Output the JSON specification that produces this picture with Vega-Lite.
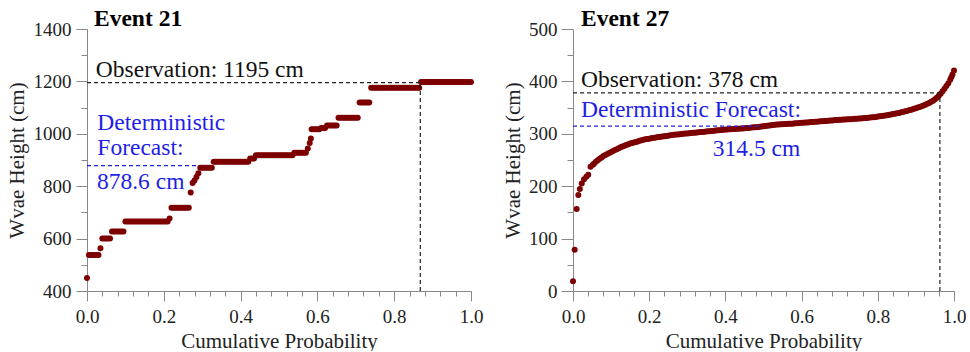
{
"$schema": "https://vega.github.io/schema/vega-lite/v6.json",
"background": "white",
"padding": {"left": 6, "top": 6, "right": 0, "bottom": 0},
"spacing": 19,
"config": {
  "view": {"stroke": null},
  "font": "Liberation Serif",
  "axis": {"grid": false, "domainColor": "#888", "tickColor": "#888", "labelColor": "#222", "titleColor": "#222", "labelFont": "Liberation Serif", "titleFont": "Liberation Serif", "labelFontSize": 19, "titleFontSize": 21, "titleFontWeight": "normal", "labelOverlap": false, "labelFlush": false, "labelBound": false}
},
"datasets": {
  "e21": [
{"p":0,"h":450},{"p":0.005,"h":537},{"p":0.01,"h":537},{"p":0.015,"h":537},{"p":0.02,"h":537},{"p":0.025,"h":537},{"p":0.03,"h":537},{"p":0.035,"h":563},{"p":0.04,"h":600},{"p":0.045,"h":600},{"p":0.05,"h":600},{"p":0.055,"h":600},{"p":0.06,"h":600},{"p":0.065,"h":627},{"p":0.07,"h":627},{"p":0.075,"h":627},{"p":0.08,"h":627},{"p":0.085,"h":627},{"p":0.09,"h":627},{"p":0.095,"h":627},
{"p":0.1,"h":665},{"p":0.105,"h":665},{"p":0.11,"h":665},{"p":0.115,"h":665},{"p":0.12,"h":665},{"p":0.125,"h":665},{"p":0.13,"h":665},{"p":0.135,"h":665},{"p":0.14,"h":665},{"p":0.145,"h":665},{"p":0.15,"h":665},{"p":0.155,"h":665},{"p":0.16,"h":665},{"p":0.165,"h":665},{"p":0.17,"h":665},{"p":0.175,"h":665},{"p":0.18,"h":665},{"p":0.185,"h":665},{"p":0.19,"h":665},{"p":0.195,"h":665},{"p":0.2,"h":665},{"p":0.205,"h":665},{"p":0.21,"h":665},{"p":0.215,"h":677},
{"p":0.22,"h":718},{"p":0.225,"h":718},{"p":0.23,"h":718},{"p":0.235,"h":718},{"p":0.24,"h":718},{"p":0.245,"h":718},{"p":0.25,"h":718},{"p":0.255,"h":718},{"p":0.26,"h":718},{"p":0.265,"h":718},{"p":0.27,"h":776},{"p":0.275,"h":812},{"p":0.28,"h":822},{"p":0.285,"h":835},{"p":0.29,"h":849},
{"p":0.295,"h":870},{"p":0.3,"h":870},{"p":0.305,"h":870},{"p":0.31,"h":870},{"p":0.315,"h":870},{"p":0.32,"h":870},{"p":0.325,"h":870},
{"p":0.33,"h":893},{"p":0.335,"h":893},{"p":0.34,"h":893},{"p":0.345,"h":893},{"p":0.35,"h":893},{"p":0.355,"h":893},{"p":0.36,"h":893},{"p":0.365,"h":893},{"p":0.37,"h":893},{"p":0.375,"h":893},{"p":0.38,"h":893},{"p":0.385,"h":893},{"p":0.39,"h":893},{"p":0.395,"h":893},{"p":0.4,"h":893},{"p":0.405,"h":893},{"p":0.41,"h":893},{"p":0.415,"h":893},{"p":0.42,"h":893},
{"p":0.425,"h":906},{"p":0.43,"h":906},{"p":0.435,"h":906},
{"p":0.44,"h":918},{"p":0.445,"h":918},{"p":0.45,"h":918},{"p":0.455,"h":918},{"p":0.46,"h":918},{"p":0.465,"h":918},{"p":0.47,"h":918},{"p":0.475,"h":918},{"p":0.48,"h":918},{"p":0.485,"h":918},{"p":0.49,"h":918},{"p":0.495,"h":918},{"p":0.5,"h":918},{"p":0.505,"h":918},{"p":0.51,"h":918},{"p":0.515,"h":918},{"p":0.52,"h":918},{"p":0.525,"h":918},{"p":0.53,"h":918},{"p":0.535,"h":918},
{"p":0.54,"h":928},{"p":0.545,"h":928},{"p":0.55,"h":928},{"p":0.555,"h":928},{"p":0.56,"h":928},{"p":0.565,"h":928},{"p":0.57,"h":928},{"p":0.575,"h":944},{"p":0.58,"h":965},{"p":0.583,"h":982},
{"p":0.585,"h":1017},{"p":0.59,"h":1017},{"p":0.595,"h":1017},{"p":0.6,"h":1017},{"p":0.605,"h":1017},{"p":0.61,"h":1022},{"p":0.615,"h":1022},{"p":0.62,"h":1022},
{"p":0.625,"h":1032},{"p":0.63,"h":1032},{"p":0.635,"h":1032},{"p":0.64,"h":1032},{"p":0.645,"h":1032},{"p":0.65,"h":1032},
{"p":0.655,"h":1061},{"p":0.66,"h":1061},{"p":0.665,"h":1061},{"p":0.67,"h":1061},{"p":0.675,"h":1061},{"p":0.68,"h":1061},{"p":0.685,"h":1061},{"p":0.69,"h":1061},{"p":0.695,"h":1061},{"p":0.7,"h":1061},{"p":0.705,"h":1061},
{"p":0.71,"h":1119},{"p":0.715,"h":1119},{"p":0.72,"h":1119},{"p":0.725,"h":1119},{"p":0.73,"h":1119},{"p":0.735,"h":1119},
{"p":0.74,"h":1176},{"p":0.745,"h":1176},{"p":0.75,"h":1176},{"p":0.755,"h":1176},{"p":0.76,"h":1176},{"p":0.765,"h":1176},{"p":0.77,"h":1176},{"p":0.775,"h":1176},{"p":0.78,"h":1176},{"p":0.785,"h":1176},{"p":0.79,"h":1176},{"p":0.795,"h":1176},{"p":0.8,"h":1176},{"p":0.805,"h":1176},{"p":0.81,"h":1176},{"p":0.815,"h":1176},{"p":0.82,"h":1176},{"p":0.825,"h":1176},{"p":0.83,"h":1176},{"p":0.835,"h":1176},{"p":0.84,"h":1176},{"p":0.845,"h":1176},{"p":0.85,"h":1176},{"p":0.855,"h":1176},{"p":0.86,"h":1176},{"p":0.865,"h":1176},
{"p":0.87,"h":1198},{"p":0.875,"h":1198},{"p":0.88,"h":1198},{"p":0.885,"h":1198},{"p":0.89,"h":1198},{"p":0.895,"h":1198},{"p":0.9,"h":1198},{"p":0.905,"h":1198},{"p":0.91,"h":1198},{"p":0.915,"h":1198},{"p":0.92,"h":1198},{"p":0.925,"h":1198},{"p":0.93,"h":1198},{"p":0.935,"h":1198},{"p":0.94,"h":1198},{"p":0.945,"h":1198},{"p":0.95,"h":1198},{"p":0.955,"h":1198},{"p":0.96,"h":1198},{"p":0.965,"h":1198},{"p":0.97,"h":1198},{"p":0.975,"h":1198},{"p":0.98,"h":1198},{"p":0.985,"h":1198},{"p":0.99,"h":1198},{"p":0.995,"h":1198},{"p":1,"h":1198}
  ],
  "e27": [
{"p":0,"h":18.4},{"p":0.0044,"h":78.5},{"p":0.0096,"h":156.5},{"p":0.014,"h":183},{"p":0.018,"h":194.5},{"p":0.023,"h":205},{"p":0.029,"h":213.5},{"p":0.035,"h":218},{"p":0.04,"h":222},{"p":0.046,"h":237},{"p":0.052,"h":241},
{"p":0.055,"h":243},{"p":0.06,"h":246.5},{"p":0.065,"h":249.5},{"p":0.07,"h":252.5},{"p":0.075,"h":255},{"p":0.08,"h":257.5},{"p":0.085,"h":259.5},{"p":0.09,"h":261.5},{"p":0.095,"h":263.5},{"p":0.1,"h":265.5},
{"p":0.105,"h":267.3},{"p":0.11,"h":269},{"p":0.115,"h":270.7},{"p":0.12,"h":272.5},{"p":0.125,"h":274.3},{"p":0.13,"h":276},{"p":0.135,"h":277.3},{"p":0.14,"h":278.7},{"p":0.145,"h":280},{"p":0.15,"h":281.3},
{"p":0.155,"h":282.5},{"p":0.16,"h":283.5},{"p":0.165,"h":284.5},{"p":0.17,"h":285.5},{"p":0.175,"h":286.5},{"p":0.18,"h":287.5},{"p":0.185,"h":288.5},{"p":0.19,"h":289.4},{"p":0.195,"h":290},{"p":0.2,"h":290.7},
{"p":0.205,"h":291.3},{"p":0.21,"h":292},{"p":0.215,"h":292.6},{"p":0.22,"h":293.3},{"p":0.225,"h":294},{"p":0.23,"h":294.5},{"p":0.235,"h":295},{"p":0.24,"h":295.5},{"p":0.245,"h":296},{"p":0.25,"h":296.5},
{"p":0.255,"h":297},{"p":0.26,"h":297.5},{"p":0.265,"h":298},{"p":0.27,"h":298.5},{"p":0.275,"h":298.9},{"p":0.28,"h":299.3},{"p":0.285,"h":299.7},{"p":0.29,"h":300.1},{"p":0.295,"h":300.5},{"p":0.3,"h":300.8},
{"p":0.305,"h":301.1},{"p":0.31,"h":301.5},{"p":0.315,"h":301.9},{"p":0.32,"h":302.2},{"p":0.325,"h":302.6},{"p":0.33,"h":302.9},{"p":0.335,"h":303.3},{"p":0.34,"h":303.6},{"p":0.345,"h":304},{"p":0.35,"h":304.3},
{"p":0.355,"h":304.7},{"p":0.36,"h":305.1},{"p":0.365,"h":305.5},{"p":0.37,"h":305.9},{"p":0.375,"h":306.3},{"p":0.38,"h":306.7},{"p":0.385,"h":307},{"p":0.39,"h":307.4},{"p":0.395,"h":307.7},{"p":0.4,"h":308},
{"p":0.405,"h":308.3},{"p":0.41,"h":308.5},{"p":0.415,"h":308.8},{"p":0.42,"h":309},{"p":0.425,"h":309.3},{"p":0.43,"h":309.5},{"p":0.435,"h":309.8},{"p":0.44,"h":310},{"p":0.445,"h":310.3},{"p":0.45,"h":310.6},
{"p":0.455,"h":311},{"p":0.46,"h":311.3},{"p":0.465,"h":311.7},{"p":0.47,"h":312},{"p":0.475,"h":312.4},{"p":0.48,"h":312.7},{"p":0.485,"h":313},{"p":0.49,"h":313.5},{"p":0.495,"h":314},{"p":0.5,"h":314.5},
{"p":0.505,"h":315},{"p":0.51,"h":315.5},{"p":0.515,"h":316},{"p":0.52,"h":316.5},{"p":0.525,"h":317},{"p":0.53,"h":317.4},{"p":0.535,"h":317.7},{"p":0.54,"h":317.9},{"p":0.545,"h":318.1},{"p":0.55,"h":318.3},
{"p":0.555,"h":318.6},{"p":0.56,"h":318.8},{"p":0.565,"h":319},{"p":0.57,"h":319.2},{"p":0.575,"h":319.4},{"p":0.58,"h":319.7},{"p":0.585,"h":320},{"p":0.59,"h":320.3},{"p":0.595,"h":320.6},{"p":0.6,"h":320.9},
{"p":0.605,"h":321.2},{"p":0.61,"h":321.5},{"p":0.615,"h":321.8},{"p":0.62,"h":322},{"p":0.625,"h":322.3},{"p":0.63,"h":322.6},{"p":0.635,"h":322.9},{"p":0.64,"h":323.2},{"p":0.645,"h":323.5},{"p":0.65,"h":323.8},
{"p":0.655,"h":324.1},{"p":0.66,"h":324.4},{"p":0.665,"h":324.6},{"p":0.67,"h":324.9},{"p":0.675,"h":325.2},{"p":0.68,"h":325.5},{"p":0.685,"h":325.8},{"p":0.69,"h":326.1},{"p":0.695,"h":326.4},{"p":0.7,"h":326.7},
{"p":0.705,"h":327},{"p":0.71,"h":327.2},{"p":0.715,"h":327.4},{"p":0.72,"h":327.6},{"p":0.725,"h":327.8},{"p":0.73,"h":328},{"p":0.735,"h":328.3},{"p":0.74,"h":328.5},{"p":0.745,"h":328.8},{"p":0.75,"h":329},
{"p":0.755,"h":329.3},{"p":0.76,"h":329.6},{"p":0.765,"h":330},{"p":0.77,"h":330.3},{"p":0.775,"h":330.7},{"p":0.78,"h":331},{"p":0.785,"h":331.4},{"p":0.79,"h":331.7},{"p":0.795,"h":332.1},{"p":0.8,"h":332.8},
{"p":0.805,"h":333.4},{"p":0.81,"h":334},{"p":0.815,"h":334.5},{"p":0.82,"h":335},{"p":0.825,"h":335.6},{"p":0.83,"h":336.3},{"p":0.835,"h":337},{"p":0.84,"h":337.7},{"p":0.845,"h":338.3},{"p":0.85,"h":339},
{"p":0.855,"h":339.7},{"p":0.86,"h":340.6},{"p":0.865,"h":341.5},{"p":0.87,"h":342.4},{"p":0.875,"h":343.3},{"p":0.88,"h":344.3},{"p":0.885,"h":345.3},{"p":0.89,"h":346.4},{"p":0.895,"h":347.6},{"p":0.9,"h":348.8},
{"p":0.905,"h":350},{"p":0.91,"h":351.3},{"p":0.915,"h":352.6},{"p":0.92,"h":354},{"p":0.925,"h":355.5},{"p":0.93,"h":357.2},{"p":0.935,"h":359},{"p":0.94,"h":361},{"p":0.945,"h":363.3},{"p":0.95,"h":366},
{"p":0.955,"h":369},{"p":0.96,"h":372.5},{"p":0.965,"h":376.5},{"p":0.97,"h":381},{"p":0.975,"h":386},{"p":0.98,"h":391},{"p":0.985,"h":396.5},{"p":0.99,"h":403},{"p":0.993,"h":408},{"p":0.996,"h":413},{"p":1,"h":421}
  ]
},
"hconcat": [
  {
    "width": 384, "height": 262,
    "title": {"text": "Event 21", "anchor": "start", "frame": "group", "dx": 7, "offset": -29, "baseline": "alphabetic", "font": "Liberation Serif", "fontSize": 23.5, "fontWeight": "bold", "color": "#000"},
    "resolve": {"axis": {"x": "independent", "y": "independent"}},
    "layer": [
      {
        "data": {"name": "e21"},
        "mark": {"type": "circle", "size": 36, "color": "#7d0000", "opacity": 1},
        "encoding": {
          "x": {"field": "p", "type": "quantitative", "scale": {"domain": [0, 1], "nice": false},
            "axis": {"orient": "bottom", "title": "Cumulative Probability", "values": [0,0.2,0.4,0.6,0.8,1], "format": ".1f", "tickSize": 10, "labelPadding": 6, "titlePadding": 4}},
          "y": {"field": "h", "type": "quantitative", "scale": {"domain": [400, 1400], "nice": false, "zero": false},
            "axis": {"orient": "left", "title": "Wvae Height (cm)", "values": [400,600,800,1000,1200,1400], "format": "d", "tickSize": 11, "labelPadding": 5, "titlePadding": 6}}
        }
      },
      {
        "data": {"values": [{"a": 0, "b": 0.868, "h": 1195}]},
        "mark": {"type": "rule", "color": "#222", "strokeWidth": 1.2, "strokeDash": [4, 3]},
        "encoding": {
          "x": {"field": "a", "type": "quantitative", "axis": {"orient": "bottom", "title": null, "values": [0.04,0.08,0.12,0.16,0.24,0.28,0.32,0.36,0.44,0.48,0.52,0.56,0.64,0.68,0.72,0.76,0.84,0.88,0.92,0.96], "labels": false, "domain": false, "tickSize": 5}},
          "x2": {"field": "b"},
          "y": {"field": "h", "type": "quantitative", "axis": {"orient": "left", "title": null, "values": [500,700,900,1100,1300], "labels": false, "domain": false, "tickSize": 6}}
        }
      },
      {
        "data": {"values": [{"p": 0.868, "a": 400, "b": 1195}]},
        "mark": {"type": "rule", "color": "#222", "strokeWidth": 1.2, "strokeDash": [4, 3]},
        "encoding": {"x": {"field": "p", "type": "quantitative", "axis": null}, "y": {"field": "a", "type": "quantitative", "axis": null}, "y2": {"field": "b"}}
      },
      {
        "data": {"values": [{"a": 0, "b": 0.288, "h": 878.6}]},
        "mark": {"type": "rule", "color": "#2323dd", "strokeWidth": 1.2, "strokeDash": [4, 3]},
        "encoding": {"x": {"field": "a", "type": "quantitative", "axis": null}, "x2": {"field": "b"}, "y": {"field": "h", "type": "quantitative", "axis": null}}
      },
      {
        "data": {"values": [{"p": 0.023, "h": 1216, "t": "Observation: 1195 cm"}]},
        "mark": {"type": "text", "align": "left", "baseline": "alphabetic", "font": "Liberation Serif", "fontSize": 23.5, "color": "#111"},
        "encoding": {"x": {"field": "p", "type": "quantitative", "axis": null}, "y": {"field": "h", "type": "quantitative", "axis": null}, "text": {"field": "t"}}
      },
      {
        "data": {"values": [{"p": 0.027, "h": 1014, "t": "Deterministic"}, {"p": 0.027, "h": 919, "t": "Forecast:"}, {"p": 0.026, "h": 789, "t": "878.6 cm"}]},
        "mark": {"type": "text", "align": "left", "baseline": "alphabetic", "font": "Liberation Serif", "fontSize": 23.5, "color": "#1e1ee6"},
        "encoding": {"x": {"field": "p", "type": "quantitative", "axis": null}, "y": {"field": "h", "type": "quantitative", "axis": null}, "text": {"field": "t"}}
      }
    ]
  },
  {
    "width": 381, "height": 262,
    "title": {"text": "Event 27", "anchor": "start", "frame": "group", "dx": 8, "offset": -29, "baseline": "alphabetic", "font": "Liberation Serif", "fontSize": 23.5, "fontWeight": "bold", "color": "#000"},
    "resolve": {"axis": {"x": "independent", "y": "independent"}},
    "layer": [
      {
        "data": {"name": "e27"},
        "mark": {"type": "circle", "size": 36, "color": "#7d0000", "opacity": 1},
        "encoding": {
          "x": {"field": "p", "type": "quantitative", "scale": {"domain": [0, 1], "nice": false},
            "axis": {"orient": "bottom", "title": "Cumulative Probability", "values": [0,0.2,0.4,0.6,0.8,1], "format": ".1f", "tickSize": 10, "labelPadding": 6, "titlePadding": 4}},
          "y": {"field": "h", "type": "quantitative", "scale": {"domain": [0, 500], "nice": false, "zero": false},
            "axis": {"orient": "left", "title": "Wvae Height (cm)", "values": [0,100,200,300,400,500], "format": "d", "tickSize": 12, "labelPadding": 4, "titlePadding": 5}}
        }
      },
      {
        "data": {"values": [{"a": 0, "b": 0.963, "h": 378}]},
        "mark": {"type": "rule", "color": "#222", "strokeWidth": 1.2, "strokeDash": [4, 3]},
        "encoding": {
          "x": {"field": "a", "type": "quantitative", "axis": {"orient": "bottom", "title": null, "values": [0.04,0.08,0.12,0.16,0.24,0.28,0.32,0.36,0.44,0.48,0.52,0.56,0.64,0.68,0.72,0.76,0.84,0.88,0.92,0.96], "labels": false, "domain": false, "tickSize": 5}},
          "x2": {"field": "b"},
          "y": {"field": "h", "type": "quantitative", "axis": {"orient": "left", "title": null, "values": [50,150,250,350,450], "labels": false, "domain": false, "tickSize": 6}}
        }
      },
      {
        "data": {"values": [{"p": 0.963, "a": 0, "b": 378}]},
        "mark": {"type": "rule", "color": "#222", "strokeWidth": 1.2, "strokeDash": [4, 3]},
        "encoding": {"x": {"field": "p", "type": "quantitative", "axis": null}, "y": {"field": "a", "type": "quantitative", "axis": null}, "y2": {"field": "b"}}
      },
      {
        "data": {"values": [{"a": 0, "b": 0.49, "h": 314.5}]},
        "mark": {"type": "rule", "color": "#2323dd", "strokeWidth": 1.2, "strokeDash": [4, 3]},
        "encoding": {"x": {"field": "a", "type": "quantitative", "axis": null}, "x2": {"field": "b"}, "y": {"field": "h", "type": "quantitative", "axis": null}}
      },
      {
        "data": {"values": [{"p": 0.021, "h": 389, "t": "Observation: 378 cm"}]},
        "mark": {"type": "text", "align": "left", "baseline": "alphabetic", "font": "Liberation Serif", "fontSize": 23.5, "color": "#111"},
        "encoding": {"x": {"field": "p", "type": "quantitative", "axis": null}, "y": {"field": "h", "type": "quantitative", "axis": null}, "text": {"field": "t"}}
      },
      {
        "data": {"values": [{"p": 0.021, "h": 331.5, "t": "Deterministic Forecast:"}, {"p": 0.367, "h": 258.4, "t": "314.5 cm"}]},
        "mark": {"type": "text", "align": "left", "baseline": "alphabetic", "font": "Liberation Serif", "fontSize": 23.5, "color": "#1e1ee6"},
        "encoding": {"x": {"field": "p", "type": "quantitative", "axis": null}, "y": {"field": "h", "type": "quantitative", "axis": null}, "text": {"field": "t"}}
      }
    ]
  }
]
}
